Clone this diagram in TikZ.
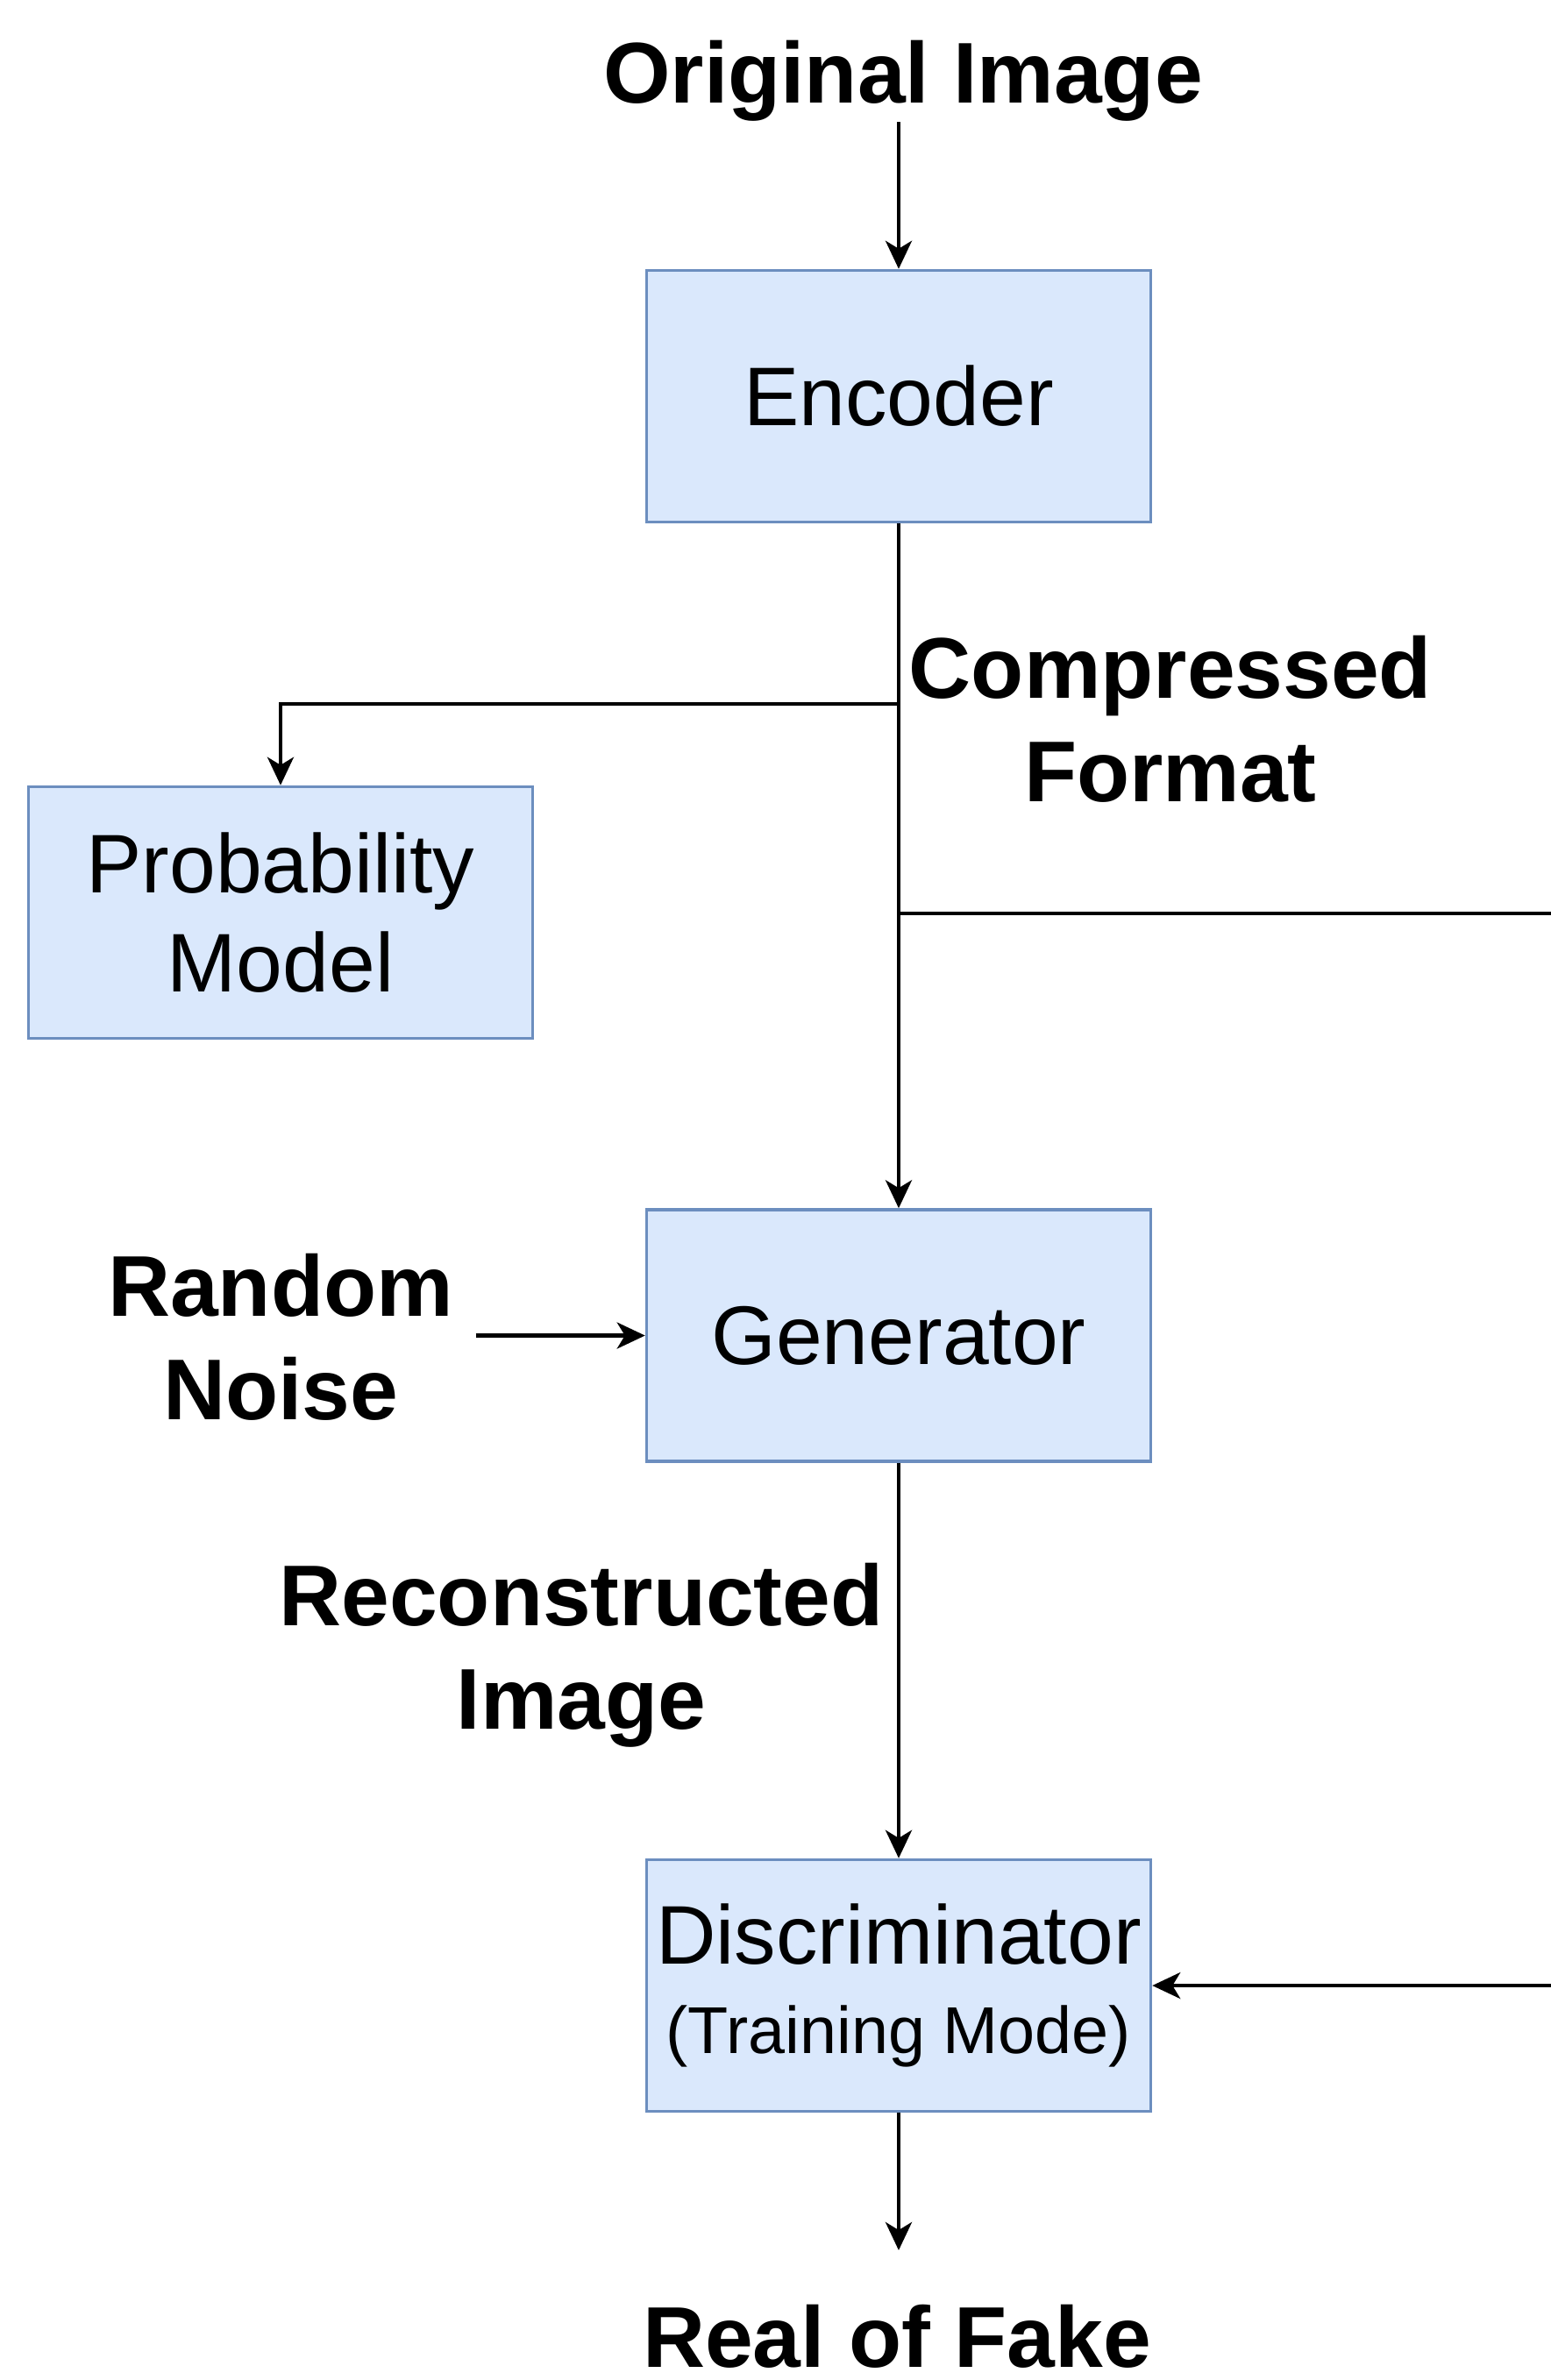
\documentclass[tikz,border=0pt]{standalone}
\usepackage{fontspec}
\setmainfont{Liberation Sans}
\usepackage{xcolor}
\usetikzlibrary{arrows.meta, positioning}

\definecolor{boxfill}{HTML}{DAE8FC}
\definecolor{boxline}{HTML}{6C8EBF}

\begin{document}
\begin{tikzpicture}[
  node distance=8mm and 10mm,
  box/.style={draw=boxline, fill=boxfill, line width=1pt, align=center, inner sep=0pt, minimum width=5.75cm, minimum height=2.87cm, font=\fontsize{27}{32.4}\selectfont},
  tag/.style={align=center, inner sep=0pt, font=\fontsize{28}{33.6}\selectfont\bfseries},
  arrow/.style={-{Stealth[length=3.2mm, width=3mm, inset=0.9mm]}, line width=1.2pt}
]
  \useasboundingbox (0,0) rectangle (17.69,-27.15);

  \node[box] (enc) at (10.25,-4.52) {Encoder};
  \node[box, below=7.81cm of enc] (gen) {Generator};
  \node[box, below=4.51cm of gen] (disc) {Discriminator\\[-3.4pt]{\fontsize{21.5}{25}\selectfont (Training Mode)}};
  \node[box] (prob) at (3.20,-10.41) {Probability\\Model};

  \node[tag, anchor=base] (orig) at (10.30,-1.177) {Original Image};
  \node[tag] (comp) at (13.35,-8.20) {Compressed\\Format};
  \node[tag] (noise) at (3.20,-15.25) {Random\\Noise};
  \node[tag] (recon) at (6.63,-18.88) {Reconstructed\\Image};
  \node[tag, anchor=base] (verdict) at (10.23,-27.00) {Real of Fake};

  \coordinate[below=2.06cm of enc] (tapP);
  \coordinate[below=4.45cm of enc] (tapR);
  \coordinate (farR) at (17.75,0);

  \draw[arrow] (orig.south -| enc) -- (enc);
  \draw[arrow] (enc) -- (gen);
  \draw[arrow] (tapP) -| (prob);
  \draw[arrow] (tapR) -- (tapR -| farR) |- (disc);
  \draw[arrow, shorten <=2.5mm] (noise.east |- gen) -- (gen.west);
  \draw[arrow] (gen) -- (disc);
  \draw[arrow, shorten >=6.1mm] (disc) -- (verdict.north -| disc);
\end{tikzpicture}
\end{document}
